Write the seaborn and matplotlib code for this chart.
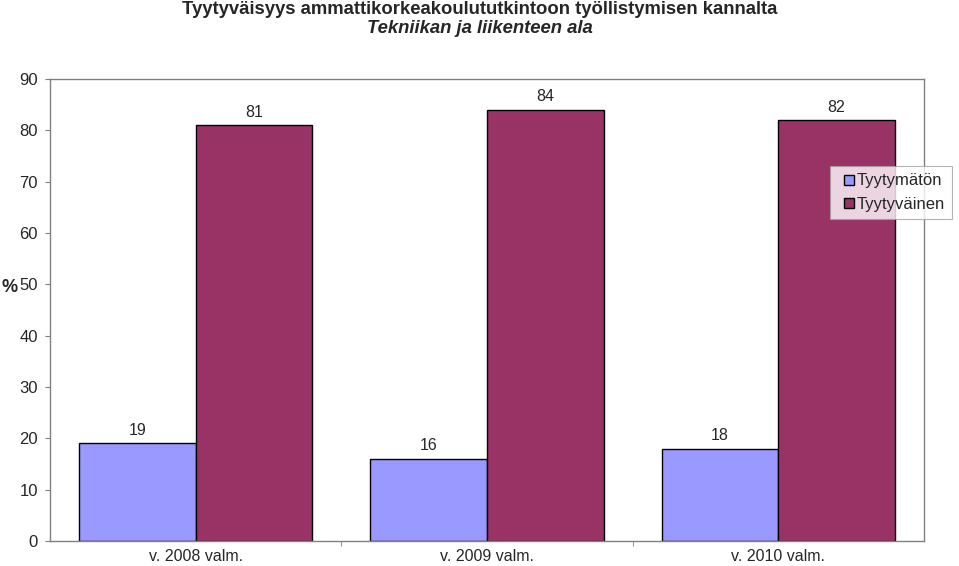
import matplotlib
matplotlib.use("Agg")
import matplotlib.pyplot as plt
import seaborn as sns
import pandas as pd
from matplotlib.ticker import FixedLocator
from matplotlib.legend_handler import HandlerPatch
from matplotlib.patches import Rectangle

categories = ["v. 2008 valm.", "v. 2009 valm.", "v. 2010 valm."]
series_names = ["Tyytymätön", "Tyytyväinen"]
tyytymaton = [19, 16, 18]
tyytyvainen = [81, 84, 82]
yticks = [0, 10, 20, 30, 40, 50, 60, 70, 80, 90]

df = pd.DataFrame({
    "cat": categories * 2,
    "series": [series_names[0]] * 3 + [series_names[1]] * 3,
    "value": tyytymaton + tyytyvainen,
})

sns.set_style("white")
plt.rcParams["font.family"] = ["Liberation Sans", "DejaVu Sans"]

fig = plt.figure(figsize=(9.59, 5.66), dpi=100)
ax = fig.add_axes([50 / 959, 25 / 566, 874 / 959, 462 / 566])

sns.barplot(data=df, x="cat", y="value", hue="series", hue_order=series_names,
            palette=["#9999FF", "#993366"], edgecolor="black", linewidth=1.0,
            width=0.8, ax=ax, saturation=1)

for c in ax.containers:
    ax.bar_label(c, fmt="%d", padding=4, fontsize=11.5)

ax.set_ylim(0, 90)
ax.set_xlim(-0.5, 2.5)
ax.set_yticks(yticks)
ax.set_yticklabels([str(v) for v in yticks], fontsize=12)
ax.set_xlabel("")
ax.set_ylabel("%", fontsize=13, fontweight="bold", rotation=0, va="center", ha="center")
ax.yaxis.set_label_coords(-40.5 / 874, (541 - 287) / 462)

ax.set_xticks([0, 1, 2])
ax.set_xticklabels(categories, fontsize=11.5)
ax.tick_params(axis="x", which="major", length=0, pad=6)
ax.xaxis.set_minor_locator(FixedLocator([0.5, 1.5]))
ax.tick_params(axis="x", which="minor", length=3.6, color="#808080", bottom=True, direction="out")
ax.tick_params(axis="y", length=3.6, color="#808080", left=True, direction="out", pad=5)

for s in ax.spines.values():
    s.set_color("#808080")
    s.set_linewidth(1.0)
    s.set_visible(True)


def square_patch(legend, orig_handle, xdescent, ydescent, width, height, fontsize):
    side = height
    return Rectangle((width - side - xdescent, -ydescent), side, side)


handles, labels = ax.get_legend_handles_labels()
leg = ax.legend(handles, labels, loc="upper left", bbox_to_anchor=(830 / 959, 1 - 166 / 566),
                bbox_transform=fig.transFigure, frameon=True, fontsize=12,
                handlelength=1.0, handleheight=0.55, handletextpad=0.15,
                borderpad=0.45, labelspacing=0.5, fancybox=False,
                borderaxespad=0,
                handler_map={Rectangle: HandlerPatch(patch_func=square_patch)})
leg.get_frame().set_edgecolor("#a0a0a0")
leg.get_frame().set_linewidth(0.8)

fig.text(0.5, 1 - 9.5 / 566, "Tyytyväisyys ammattikorkeakoulututkintoon työllistymisen kannalta",
         ha="center", va="center", fontsize=13.3, fontweight="bold")
fig.text(0.5, 1 - 28.5 / 566, "Tekniikan ja liikenteen ala",
         ha="center", va="center", fontsize=13.3, fontweight="bold", style="italic")

fig.savefig("out.png", dpi=100)
